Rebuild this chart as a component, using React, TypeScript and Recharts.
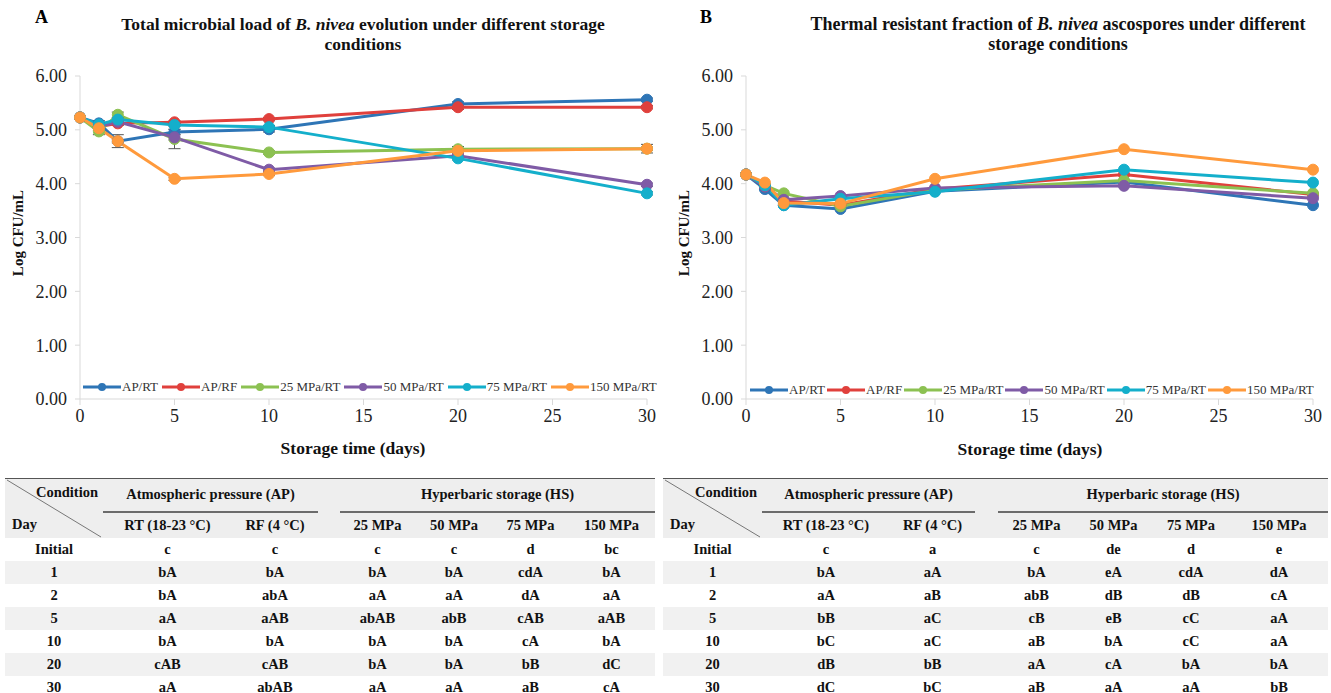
import { LineChart, Line, XAxis, YAxis, ErrorBar, Legend } from "recharts";

const FONT = '"Liberation Serif", "Times New Roman", serif';

const DAYS = [0, 1, 2, 5, 10, 20, 30];
const X_TICKS = [0, 5, 10, 15, 20, 25, 30];
const Y_TICKS = [0, 1, 2, 3, 4, 5, 6];

const SERIES_KEYS = ["apRt", "apRf", "hs25", "hs50", "hs75", "hs150"];
const SERIES_NAMES = ["AP/RT", "AP/RF", "25 MPa/RT", "50 MPa/RT", "75 MPa/RT", "150 MPa/RT"];
const SERIES_COLORS = ["#2E75B6", "#E0403C", "#8CC152", "#7F5BA6", "#14AFCB", "#FF9A3C"];

// A: total microbial load (log CFU/mL)
const A_AP_RT = [5.23, 5.12, 4.79, 4.96, 5.01, 5.48, 5.56];
const A_AP_RF = [5.23, 5.06, 5.12, 5.14, 5.2, 5.42, 5.42];
const A_HS25 = [5.23, 4.97, 5.28, 4.83, 4.58, 4.64, 4.65];
const A_HS50 = [5.23, 5.06, 5.15, 4.86, 4.26, 4.52, 3.98];
const A_HS75 = [5.23, 5.1, 5.19, 5.09, 5.05, 4.47, 3.82];
const A_HS150 = [5.23, 5.03, 4.79, 4.09, 4.18, 4.61, 4.65];

// standard deviations for A
const A_AP_RT_SD = [0.02, 0.05, 0.12, 0.05, 0.05, 0.04, 0.03];
const A_AP_RF_SD = [0.02, 0.03, 0.04, 0.03, 0.03, 0.04, 0.03];
const A_HS25_SD = [0.02, 0.06, 0.05, 0.18, 0.03, 0.05, 0.03];
const A_HS50_SD = [0.02, 0.03, 0.03, 0.05, 0.03, 0.03, 0.03];
const A_HS75_SD = [0.02, 0.03, 0.03, 0.03, 0.03, 0.03, 0.03];
const A_HS150_SD = [0.02, 0.04, 0.03, 0.03, 0.03, 0.04, 0.08];

// B: thermal resistant fraction (log CFU/mL)
const B_AP_RT = [4.17, 3.9, 3.6, 3.53, 3.86, 4.03, 3.6];
const B_AP_RF = [4.17, 3.95, 3.68, 3.6, 3.9, 4.17, 3.8];
const B_HS25 = [4.17, 3.97, 3.82, 3.58, 3.88, 4.06, 3.82];
const B_HS50 = [4.17, 3.95, 3.7, 3.77, 3.92, 3.96, 3.73];
const B_HS75 = [4.17, 3.97, 3.6, 3.72, 3.85, 4.26, 4.02];
const B_HS150 = [4.17, 4.02, 3.64, 3.63, 4.09, 4.64, 4.26];

// significance letters
const TABLE_DAYS = ["Initial", "1", "2", "5", "10", "20", "30"];
const COL_HEADS = ["RT (18-23 °C)", "RF (4 °C)", "25 MPa", "50 MPa", "75 MPa", "150 MPa"];

const TA_RT = ["c", "bA", "bA", "aA", "bA", "cAB", "aA"];
const TA_RF = ["c", "bA", "abA", "aAB", "bA", "cAB", "abAB"];
const TA_25 = ["c", "bA", "aA", "abAB", "bA", "bA", "aA"];
const TA_50 = ["c", "bA", "aA", "abB", "bA", "bA", "aA"];
const TA_75 = ["d", "cdA", "dA", "cAB", "cA", "bB", "aB"];
const TA_150 = ["bc", "bA", "aA", "aAB", "bA", "dC", "cA"];

const TB_RT = ["c", "bA", "aA", "bB", "bC", "dB", "dC"];
const TB_RF = ["a", "aA", "aB", "aC", "aC", "bB", "bC"];
const TB_25 = ["c", "bA", "abB", "cB", "aB", "aA", "aB"];
const TB_50 = ["de", "eA", "dB", "eB", "bA", "cA", "aA"];
const TB_75 = ["d", "cdA", "dB", "cC", "cC", "bA", "aA"];
const TB_150 = ["e", "dA", "cA", "aA", "aA", "bA", "bB"];

const buildRows = (series: number[][], sds?: number[][]) =>
  DAYS.map((day, i) => {
    const row: Record<string, number> = { day };
    SERIES_KEYS.forEach((k, s) => {
      row[k] = series[s][i];
      if (sds) row[k + "Sd"] = sds[s][i];
    });
    return row;
  });

const dataA = buildRows(
  [A_AP_RT, A_AP_RF, A_HS25, A_HS50, A_HS75, A_HS150],
  [A_AP_RT_SD, A_AP_RF_SD, A_HS25_SD, A_HS50_SD, A_HS75_SD, A_HS150_SD]
);
const dataB = buildRows([B_AP_RT, B_AP_RF, B_HS25, B_HS50, B_HS75, B_HS150]);

// legend kept in series order (line + filled marker)
const makeLegend = (gap: number) => () => (
  <div
    style={{
      display: "flex",
      alignItems: "center",
      fontFamily: FONT,
      fontSize: 13,
      color: "#333",
      whiteSpace: "nowrap",
    }}
  >
    {SERIES_NAMES.map((name, s) => (
      <span key={name} style={{ display: "flex", alignItems: "center", marginRight: gap }}>
        <svg width={38} height={10}>
          <line x1={0} y1={5} x2={38} y2={5} stroke={SERIES_COLORS[s]} strokeWidth={3} />
          <circle cx={19} cy={5} r={4} fill={SERIES_COLORS[s]} />
        </svg>
        <span style={{ marginLeft: 1 }}>{name}</span>
      </span>
    ))}
  </div>
);

interface PanelProps {
  data: Record<string, number>[];
  withErrors: boolean;
  legendLeft: number;
  legendTop: number;
  legendGap: number;
}

const tickStyle = { fontSize: 18, fill: "#222", fontFamily: FONT };

const Panel = ({ data, withErrors, legendLeft, legendTop, legendGap }: PanelProps) => (
  <LineChart
    width={670}
    height={440}
    data={data}
    margin={{ top: 76, right: 23, bottom: 11, left: 20 }}
  >
    <XAxis
      type="number"
      dataKey="day"
      domain={[0, 30]}
      ticks={X_TICKS}
      interval={0}
      height={30}
      axisLine={{ stroke: "#d9d9d9" }}
      tickLine={{ stroke: "#d9d9d9" }}
      tickSize={6}
      tickMargin={4}
      tick={tickStyle}
    />
    <YAxis
      type="number"
      domain={[0, 6]}
      ticks={Y_TICKS}
      interval={0}
      width={60}
      axisLine={{ stroke: "#d9d9d9" }}
      tickLine={{ stroke: "#d9d9d9" }}
      tickSize={5}
      tickMargin={8}
      tickFormatter={(v: number) => v.toFixed(2)}
      tick={tickStyle}
    />
    <Legend
      layout="horizontal"
      verticalAlign="middle"
      align="center"
      content={makeLegend(legendGap)}
      wrapperStyle={{ left: legendLeft, top: legendTop, width: 620 }}
    />
    {SERIES_KEYS.map((k, s) => (
      <Line
        key={k}
        type="linear"
        dataKey={k}
        name={SERIES_NAMES[s]}
        stroke={SERIES_COLORS[s]}
        strokeWidth={3}
        dot={{ r: 5.5, fill: SERIES_COLORS[s], stroke: SERIES_COLORS[s], strokeWidth: 1 }}
        activeDot={false}
        isAnimationActive={false}
      >
        {withErrors && (
          <ErrorBar
            dataKey={k + "Sd"}
            direction="y"
            width={6}
            stroke="#555"
            strokeWidth={1}
            isAnimationActive={false}
          />
        )}
      </Line>
    ))}
  </LineChart>
);

interface TableProps {
  left: number;
  top: number;
  widths: number[];
  columns: string[][];
}

const HEAD_BG = "#eeeeee";
const STRIPE_BG = "#f1f1f1";

const cell: React.CSSProperties = {
  textAlign: "center",
  padding: 0,
  fontWeight: "bold",
};

const LetterTable = ({ left, top, widths, columns }: TableProps) => {
  const total = widths.reduce((a, b) => a + b, 0);
  const groupLine = "2px solid #6b6b6b";
  return (
    <table
      style={{
        position: "absolute",
        left,
        top,
        width: total,
        tableLayout: "fixed",
        borderCollapse: "collapse",
        fontFamily: FONT,
        fontSize: 14.5,
        color: "#111",
        borderTop: "1.5px solid #555",
      }}
    >
      <colgroup>
        {widths.map((w, i) => (
          <col key={i} style={{ width: w }} />
        ))}
      </colgroup>
      <tbody>
        <tr style={{ height: 33, background: HEAD_BG }}>
          <td rowSpan={2} style={{ ...cell, position: "relative" }}>
            <svg
              width={widths[0]}
              height={59}
              style={{ position: "absolute", left: 0, top: 0 }}
            >
              <line x1={2} y1={1} x2={widths[0] - 2} y2={58} stroke="#777" strokeWidth={1} />
            </svg>
            <span style={{ position: "absolute", right: 5, top: 5 }}>Condition</span>
            <span style={{ position: "absolute", left: 7, bottom: 5 }}>Day</span>
          </td>
          <td colSpan={2} style={{ ...cell, borderBottom: groupLine }}>
            Atmospheric pressure (AP)
          </td>
          <td style={cell} />
          <td colSpan={4} style={{ ...cell, borderBottom: groupLine }}>
            Hyperbaric storage (HS)
          </td>
        </tr>
        <tr style={{ height: 26, background: HEAD_BG }}>
          <td style={cell}>{COL_HEADS[0]}</td>
          <td style={cell}>{COL_HEADS[1]}</td>
          <td style={cell} />
          <td style={cell}>{COL_HEADS[2]}</td>
          <td style={cell}>{COL_HEADS[3]}</td>
          <td style={cell}>{COL_HEADS[4]}</td>
          <td style={cell}>{COL_HEADS[5]}</td>
        </tr>
        {TABLE_DAYS.map((day, r) => (
          <tr key={day} style={{ height: 23, background: r % 2 === 1 ? STRIPE_BG : "#fff" }}>
            <td style={cell}>{day}</td>
            <td style={cell}>{columns[0][r]}</td>
            <td style={cell}>{columns[1][r]}</td>
            <td style={cell} />
            <td style={cell}>{columns[2][r]}</td>
            <td style={cell}>{columns[3][r]}</td>
            <td style={cell}>{columns[4][r]}</td>
            <td style={cell}>{columns[5][r]}</td>
          </tr>
        ))}
      </tbody>
    </table>
  );
};

const abs = (left: number, top: number, extra: React.CSSProperties = {}): React.CSSProperties => ({
  position: "absolute",
  left,
  top,
  ...extra,
});

const titleStyle: React.CSSProperties = {
  fontWeight: "bold",
  fontSize: 17.5,
  lineHeight: "20px",
  textAlign: "center",
  color: "#111",
  whiteSpace: "nowrap",
};

const rotated = (x: number, y: number): React.CSSProperties => ({
  position: "absolute",
  left: x,
  top: y,
  transform: "translate(-50%, -50%) rotate(-90deg)",
  whiteSpace: "nowrap",
  fontWeight: "bold",
  fontSize: 15,
  color: "#111",
});

const xTitle = (x: number, y: number): React.CSSProperties => ({
  position: "absolute",
  left: x,
  top: y,
  transform: "translate(-50%, -50%)",
  whiteSpace: "nowrap",
  fontWeight: "bold",
  fontSize: 17.5,
  color: "#111",
});

export default function App() {
  return (
    <div
      style={{
        position: "absolute",
        left: 0,
        top: 0,
        width: 1331,
        height: 693,
        overflow: "hidden",
        background: "#fff",
        fontFamily: FONT,
      }}
    >
      <div style={abs(0, 0)}>
        <Panel data={dataA} withErrors legendLeft={83} legendTop={379} legendGap={4} />
      </div>
      <div style={abs(666, 0)}>
        <Panel data={dataB} withErrors={false} legendLeft={84} legendTop={382} legendGap={2} />
      </div>

      <div style={abs(35, 7, { fontWeight: "bold", fontSize: 18 })}>A</div>
      <div style={abs(700, 7, { fontWeight: "bold", fontSize: 18 })}>B</div>

      <div style={abs(63, 14, { ...titleStyle, width: 600 })}>
        Total microbial load of <i>B. nivea</i> evolution under different storage
        <br />
        conditions
      </div>
      <div style={abs(758, 14, { ...titleStyle, fontSize: 18, width: 600 })}>
        Thermal resistant fraction of <i>B. nivea</i> ascospores under different
        <br />
        storage conditions
      </div>

      <div style={rotated(18, 233)}>Log CFU/mL</div>
      <div style={rotated(684, 233)}>Log CFU/mL</div>
      <div style={xTitle(353, 448)}>Storage time (days)</div>
      <div style={xTitle(1030, 449)}>Storage time (days)</div>

      <LetterTable
        left={5}
        top={478}
        widths={[98, 129, 86, 22, 75, 78, 75, 87]}
        columns={[TA_RT, TA_RF, TA_25, TA_50, TA_75, TA_150]}
      />
      <LetterTable
        left={663}
        top={478}
        widths={[99, 128, 85, 23, 77, 77, 78, 98]}
        columns={[TB_RT, TB_RF, TB_25, TB_50, TB_75, TB_150]}
      />
    </div>
  );
}
